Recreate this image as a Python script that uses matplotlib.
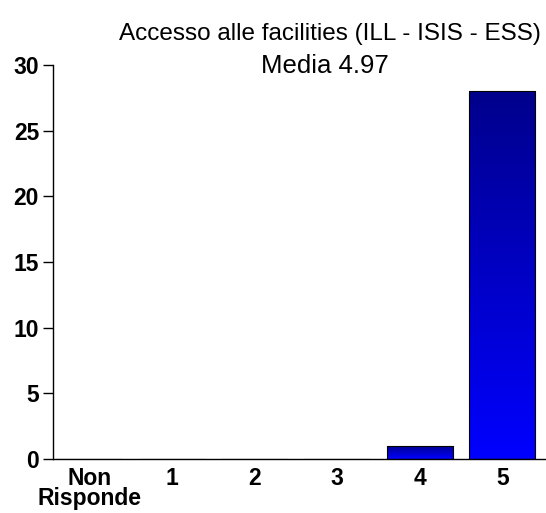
import numpy as np
import matplotlib
matplotlib.use("Agg")
import matplotlib.pyplot as plt
from matplotlib.colors import LinearSegmentedColormap

categories = ["Non\nRisponde", "1", "2", "3", "4", "5"]
counts = [0, 0, 0, 0, 1, 28]
title_line1 = "Accesso alle facilities (ILL - ISIS - ESS)"
title_line2 = "Media 4.97"

plt.rcParams["font.family"] = ["Liberation Sans", "DejaVu Sans"]

fig = plt.figure(figsize=(5.46, 5.13), dpi=100)
ax = fig.add_axes([53 / 546, 54 / 513, 493 / 546, 394 / 513])

x = np.arange(len(categories))
bars = ax.bar(x, counts, width=0.8, color="none", edgecolor="black", linewidth=0.8, zorder=3)

# vertical gradient inside each bar, dark navy at top to bright blue at bottom
grad = LinearSegmentedColormap.from_list("blues", ["#0000ff", "#00008c"])
for b in bars:
    h = b.get_height()
    if h <= 0:
        continue
    x0, w = b.get_x(), b.get_width()
    img = ax.imshow(np.linspace(0, 1, 256).reshape(-1, 1), cmap=grad, vmin=0, vmax=1,
                    origin="lower", aspect="auto", extent=[x0, x0 + w, 0, h], zorder=2)
    img.set_clip_path(b)

ax.set_xlim(-0.44, 5.53)
ax.set_ylim(0, 30)
ax.set_yticks([0, 5, 10, 15, 20, 25, 30])
ax.set_xticks(x)
ax.set_xticklabels(categories, fontsize=16.5, fontweight="bold", linespacing=0.8)
for t in ax.get_yticklabels():
    t.set_fontsize(16.5)
    t.set_fontweight("bold")
ax.tick_params(axis="y", length=7, width=1, pad=3)
ax.tick_params(axis="x", length=0, pad=6)
for s in ["top", "right"]:
    ax.spines[s].set_visible(False)
ax.spines["left"].set_linewidth(1)
ax.spines["bottom"].set_linewidth(1)

fig.text(330 / 546, 1 - 34 / 513, title_line1, ha="center", va="center", fontsize=17.5)
fig.text(325 / 546, 1 - 66 / 513, title_line2, ha="center", va="center", fontsize=18.5)

fig.savefig("out.png", dpi=100)
